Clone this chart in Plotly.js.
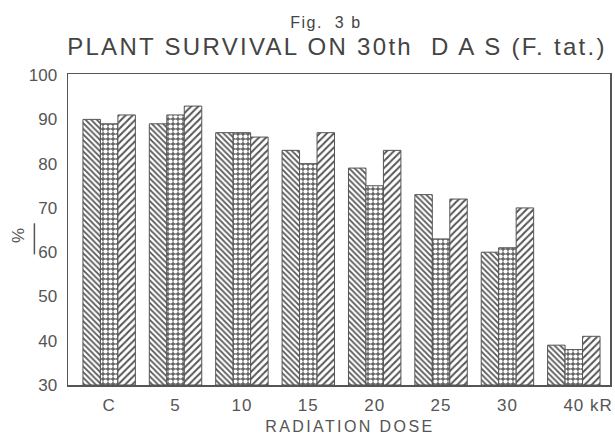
<!DOCTYPE html>
<html>
<head>
<meta charset="utf-8">
<script src="https://cdn.plot.ly/plotly-3.0.1.min.js"></script>
<style>
html,body{margin:0;padding:0;background:#fff;}
#chart{width:615px;height:440px;}
#chart .xtick text{letter-spacing:1px;}
#chart .annotation[data-index="0"] text{letter-spacing:1.5px;}
#chart .annotation[data-index="1"] text{letter-spacing:2.3px;}
#chart .annotation[data-index="2"] text{letter-spacing:2.4px;}
</style>
</head>
<body>
<div id="chart"></div>
<script>
const categories = ['C', '5', '10', '15', '20', '25', '30', '40 kR'];
const seriesA = [90, 89, 87, 83, 79, 73, 60, 39];
const seriesB = [89, 91, 87, 80, 75, 63, 61, 38];
const seriesC = [91, 93, 86, 87, 83, 72, 70, 41];
const yTicks = [30, 40, 50, 60, 70, 80, 90, 100];
const tickText = categories.map((c, i) => i === categories.length - 1 ? '\u00a0\u00a0\u00a0\u00a0\u00a0' + c : c);

const ink = '#555';
const baseValue = 30;
function bar(vals, pattern) {
  return {
    type: 'bar', x: categories, y: vals.map(v => v - baseValue), base: baseValue,
    marker: {color: 'white', line: {color: ink, width: 1}, pattern: pattern},
    hoverinfo: 'skip', showlegend: false
  };
}
const data = [
  bar(seriesA, {shape: '\\', fgcolor: ink, bgcolor: 'white', size: 4, solidity: 0.45}),
  bar(seriesB, {shape: '.', fgcolor: 'white', bgcolor: '#666', size: 5, solidity: 0.55}),
  bar(seriesC, {shape: '/', fgcolor: ink, bgcolor: 'white', size: 5, solidity: 0.4})
];
const layout = {
  width: 615, height: 440,
  margin: {l: 68, r: 5, t: 74, b: 55},
  paper_bgcolor: 'white', plot_bgcolor: 'white',
  font: {family: 'Liberation Sans, Arial, sans-serif', color: '#444'},
  barmode: 'group', bargap: 0.21, bargroupgap: 0,
  xaxis: {
    type: 'category', range: [-0.62, 7.545],
    tickmode: 'array', tickvals: categories, ticktext: tickText,
    showline: true, mirror: true, linecolor: ink, linewidth: 1.5,
    ticks: '', showgrid: false, zeroline: false,
    tickfont: {size: 17, color: '#555'}, ticklabelstandoff: 4
  },
  yaxis: {
    range: [30, 100.25], tickvals: yTicks,
    showline: true, mirror: true, linecolor: ink, linewidth: 1.5,
    ticks: '', showgrid: false, zeroline: false,
    tickfont: {size: 17, color: '#555'}, ticklabelstandoff: 6
  },
  shapes: [
    {type: 'line', xref: 'paper', yref: 'paper', x0: -0.062, x1: -0.062, y0: 0.42, y1: 0.52, line: {color: '#555', width: 1.5}}
  ],
  annotations: [
    {text: 'Fig.  3 b', xref: 'paper', yref: 'paper', x: 0.476, y: 1.167, showarrow: false, font: {size: 16, color: '#444'}, xanchor: 'center', yanchor: 'middle'},
    {text: 'PLANT SURVIVAL ON 30th  D A S (F. tat.)', xref: 'paper', yref: 'paper', x: 0.497, y: 1.09, showarrow: false, font: {size: 24, color: '#444'}, xanchor: 'center', yanchor: 'middle'},
    {text: 'RADIATION DOSE', xref: 'paper', yref: 'paper', x: 0.52, y: -0.135, showarrow: false, font: {size: 16, color: '#555'}, xanchor: 'center', yanchor: 'middle'},
    {text: '%', xref: 'paper', yref: 'paper', x: -0.09, y: 0.48, textangle: -90, showarrow: false, font: {size: 17, color: '#555'}, xanchor: 'center', yanchor: 'middle'}
  ]
};
Plotly.newPlot('chart', data, layout, {displayModeBar: false, staticPlot: true});
</script>
</body>
</html>
